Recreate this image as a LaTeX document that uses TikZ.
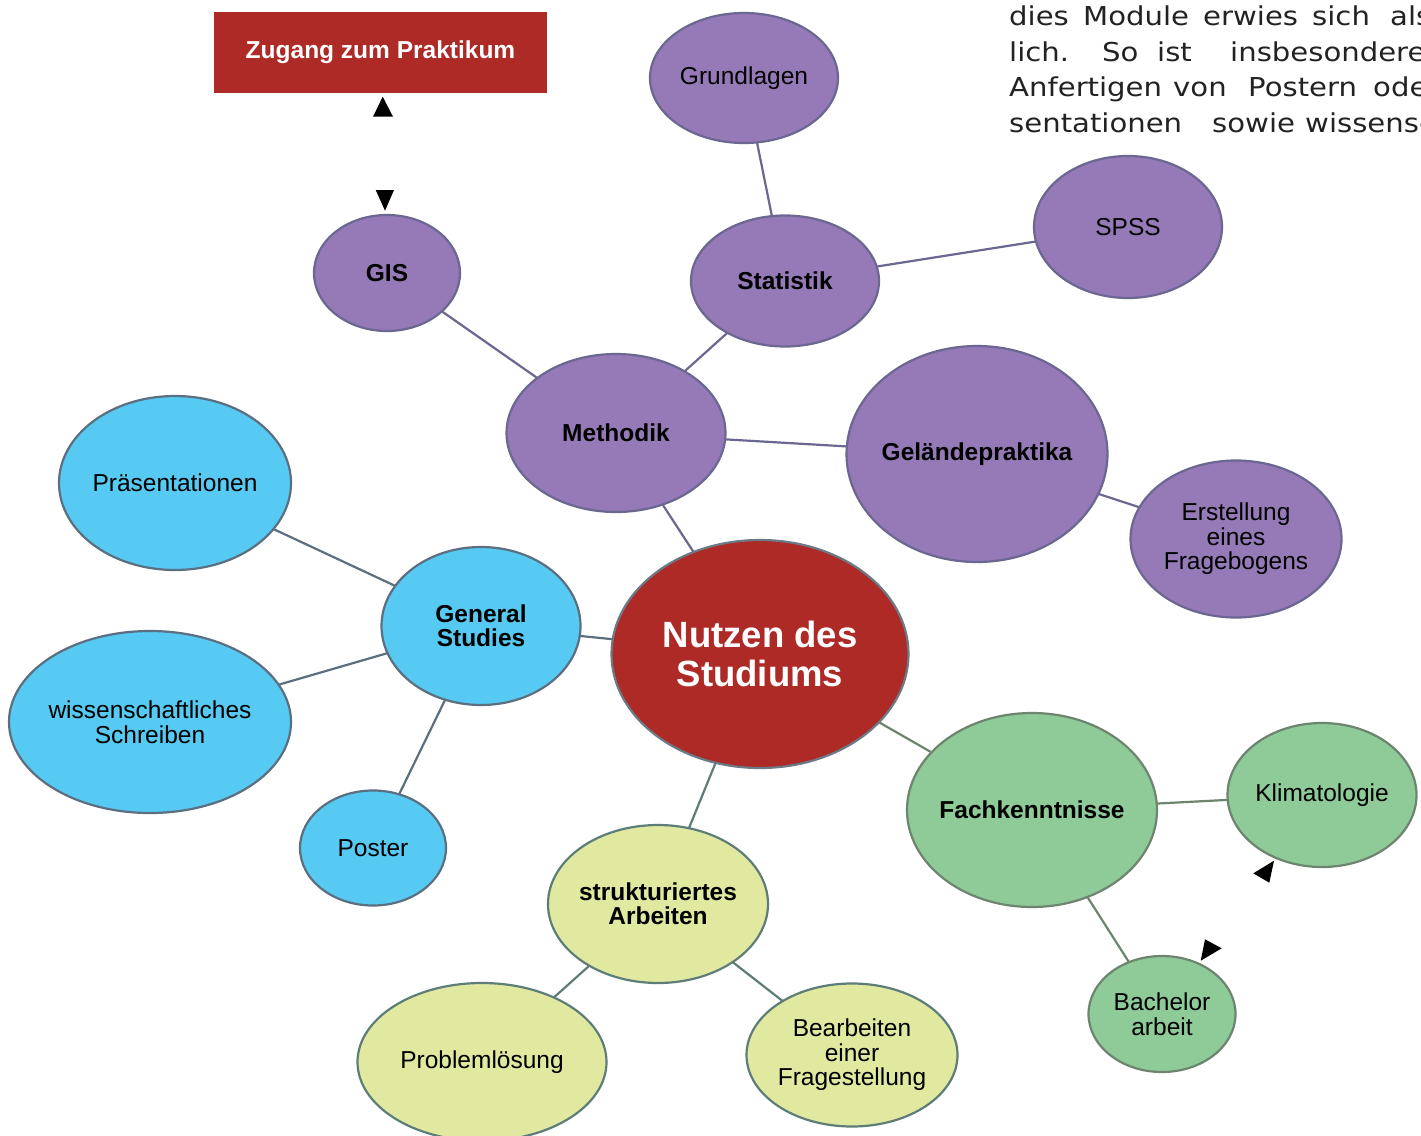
\documentclass[tikz,border=0pt]{standalone}
\usepackage{fontspec}
\setmainfont{Liberation Sans}
\newfontfamily\bodyfont{DejaVu Sans}
\usetikzlibrary{shapes.geometric}

\definecolor{pfill}{HTML}{9679B7}
\definecolor{pline}{HTML}{6A6790}
\definecolor{bfill}{HTML}{56CAF2}
\definecolor{bline}{HTML}{5B6F80}
\definecolor{rfill}{HTML}{AD2A27}
\definecolor{rline}{HTML}{6C7A86}
\definecolor{gfill}{HTML}{8ECB99}
\definecolor{gline}{HTML}{6D846F}
\definecolor{yfill}{HTML}{E1E9A1}
\definecolor{yline}{HTML}{5E7D78}
\definecolor{prosegray}{HTML}{222222}

\newcommand{\wideword}[1]{\scalebox{1.12}[1]{#1}}

\tikzset{
  bubble/.style={ellipse, draw, line width=2.2pt, inner xsep=-30pt, inner ysep=0pt,
    outer sep=0pt, align=center, font=\fontsize{24.5}{24.5}\selectfont},
  bold/.append style={font=\fontsize{24.5}{24}\selectfont\bfseries},
  purplenode/.style={bubble, fill=pfill, draw=pline},
  bluenode/.style={bubble, fill=bfill, draw=bline},
  greennode/.style={bubble, fill=gfill, draw=gline},
  yellownode/.style={bubble, fill=yfill, draw=yline},
  sz/.style 2 args={minimum width=#1pt, minimum height=#2pt},
  link/.style={line width=2.2pt},
  prose/.style={anchor=base west, inner sep=0pt, text=prosegray,
    font=\bodyfont\fontsize{26}{26}\selectfont}
}

\begin{document}
\begin{tikzpicture}[x=1pt, y=-1pt]
\clip (0,0) rectangle (1421,1135);
\fill[white] (0,0) rectangle (1421,1135);

% heading box
\node[rectangle, fill=rfill, minimum width=333pt, minimum height=81pt, inner sep=0pt,
      text=white, font=\fontsize{24.5}{24.5}\selectfont\bfseries] (zug) at (380.5,52.5) {Zugang zum Praktikum};

% methods branch
\node[purplenode, sz={188}{130}] (gr) at (744,78) {Grundlagen};
\node[purplenode, bold, sz={188}{131}] (st) at (785,281) {Statistik};
\node[purplenode, sz={188}{142}] (sp) at (1128,227) {SPSS};
\node[purplenode, bold, sz={146}{116}] (gis) at (387,273) {GIS};
\node[purplenode, bold, sz={219}{158}] (me) at (616,433) {Methodik};
\node[purplenode, bold, sz={261}{216}] (ge) at (977,454) {Geländepraktika};
\node[purplenode, sz={211}{157}] (er) at (1236,539) {Erstellung\\eines\\Fragebogens};

% general studies branch
\node[bluenode, sz={232}{174}] (pr) at (175,483) {Präsentationen};
\node[bluenode, bold, sz={199}{158}] (gs) at (481,626) {General\\Studies};
\node[bluenode, sz={282}{182}] (wi) at (150,722) {wissenschaftliches\\Schreiben};
\node[bluenode, sz={146}{115}] (po) at (373,848) {Poster};

% centre
\node[bubble, fill=rfill, draw=rline, sz={297}{228}, text=white,
      font=\fontsize{36.5}{39}\selectfont\bfseries] (nu) at (760,654) {Nutzen des\\Studiums};

% subject knowledge branch
\node[greennode, bold, sz={250}{194}] (fa) at (1032,810) {Fachkenntnisse};
\node[greennode, sz={189}{144}] (kl) at (1322,795) {Klimatologie};
\node[greennode, sz={147}{116}] (ba) at (1162,1014) {Bachelor\\arbeit};

% structured work branch
\node[yellownode, bold, sz={220}{158}] (sa) at (658,904) {strukturiertes\\Arbeiten};
\node[yellownode, sz={249}{158}] (pl) at (482,1062) {Problemlösung};
\node[yellownode, sz={211}{143}] (be) at (852,1055) {Bearbeiten\\einer\\Fragestellung};

% connectors
\draw[link, pline] (gr) -- (st);
\draw[link, pline] (st) -- (sp);
\draw[link, pline] (st) -- (me);
\draw[link, pline] (gis) -- (me);
\draw[link, pline] (me) -- (ge);
\draw[link, pline] (ge) -- (er);
\draw[link, pline] (me) -- (nu);
\draw[link, bline] (nu) -- (gs);
\draw[link, bline] (gs) -- (pr);
\draw[link, bline] (gs) -- (wi);
\draw[link, bline] (gs) -- (po);
\draw[link, gline] (nu) -- (fa);
\draw[link, gline] (fa) -- (kl);
\draw[link, gline] (fa) -- (ba);
\draw[link, yline] (nu) -- (sa);
\draw[link, yline] (sa) -- (pl);
\draw[link, yline] (sa) -- (be);

% loose arrowheads
\fill[black] (382.7,96.7) -- (393,116.7) -- (373,116.7) -- cycle;
\fill[black] (375.7,190) -- (394,190) -- (385,210.7) -- cycle;
\fill[black] (1253.3,873.3) -- (1274,860.7) -- (1269.3,882.7) -- cycle;
\fill[black] (1205,939.3) -- (1221.7,948.3) -- (1200.7,960.7) -- cycle;

% running text at the top right
\node[prose] (l1a) at (1009,25) {\wideword{dies}};
\node[prose] (l1b) at (1083,25) {\wideword{Module}};
\node[prose] (l1c) at (1203,25) {\wideword{erwies}};
\node[prose] (l1d) at (1312,25) {\wideword{sich}};
\node[prose] (l1e) at (1390,25) {\wideword{als}};
\node[prose] (l2a) at (1009,61.5) {\wideword{lich.}};
\node[prose] (l2b) at (1102,61.5) {\wideword{So}};
\node[prose] (l2c) at (1157,61.5) {\wideword{ist}};
\node[prose] (l2d) at (1230,61.5) {\wideword{insbesondere}};
\node[prose] (l3a) at (1009,96) {\wideword{Anfertigen}};
\node[prose] (l3b) at (1173,96) {\wideword{von}};
\node[prose] (l3c) at (1248,96) {\wideword{Postern}};
\node[prose] (l3d) at (1373,96) {\wideword{oder}};
\node[prose] (l4a) at (1009,132) {\wideword{sentationen}};
\node[prose] (l4b) at (1212,132) {\wideword{sowie}};
\node[prose] (l4c) at (1305,132) {\wideword{wissenschaftlicher}};
\end{tikzpicture}
\end{document}
